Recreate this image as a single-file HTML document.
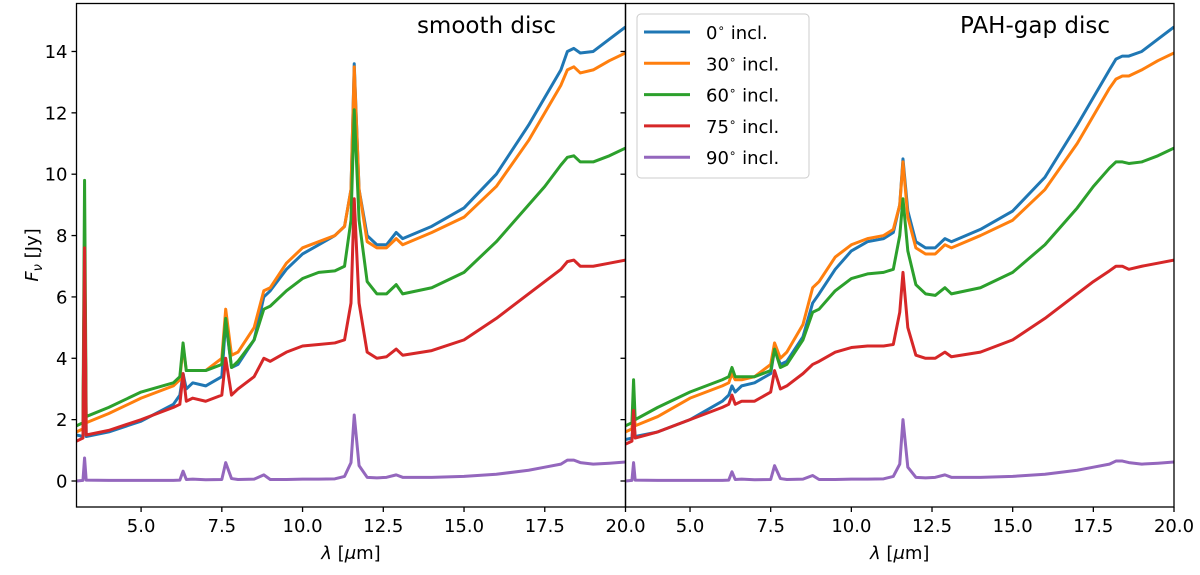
<!DOCTYPE html>
<html><head><meta charset="utf-8"><style>
body{margin:0;background:#fff}
svg{font-family:"DejaVu Sans","Liberation Sans",sans-serif}
</style></head><body>
<svg id="c" width="1200" height="570" xmlns="http://www.w3.org/2000/svg"></svg>
<script>
const lam=[3,3.2,3.25,3.3,4,5,6,6.2,6.3,6.4,6.6,7,7.5,7.62,7.8,8,8.5,8.8,9,9.5,10,10.5,11,11.3,11.5,11.6,11.75,12,12.3,12.6,12.9,13.1,14,15,16,17,17.5,18,18.2,18.4,18.6,19,19.5,20];
const smoothBlue=[1.5,1.45,7.6,1.45,1.6,1.95,2.5,2.8,3.5,3.0,3.2,3.1,3.4,5.2,3.7,3.8,4.6,6.0,6.2,6.9,7.4,7.7,8.0,8.3,9.5,13.6,9.5,8.0,7.7,7.7,8.1,7.9,8.3,8.9,10.0,11.6,12.5,13.4,14.0,14.1,13.95,14.0,14.4,14.8];
const smoothOrange=[1.6,1.7,7.7,1.9,2.2,2.7,3.1,3.3,4.4,3.6,3.6,3.6,4.0,5.6,4.1,4.2,5.0,6.2,6.3,7.1,7.6,7.8,8.0,8.3,9.5,13.5,9.5,7.8,7.6,7.6,7.9,7.7,8.1,8.6,9.6,11.1,12.0,12.9,13.4,13.5,13.3,13.4,13.7,13.95];
const smoothGreen=[1.8,1.9,9.8,2.1,2.4,2.9,3.2,3.4,4.5,3.6,3.6,3.6,3.8,5.3,3.7,3.9,4.6,5.6,5.7,6.2,6.6,6.8,6.85,7.0,8.5,12.1,8.5,6.5,6.1,6.1,6.4,6.1,6.3,6.8,7.8,9.0,9.6,10.3,10.55,10.6,10.4,10.4,10.6,10.85];
const smoothRed=[1.3,1.4,7.6,1.5,1.65,2.0,2.4,2.5,3.5,2.6,2.7,2.6,2.8,4.0,2.8,3.0,3.4,4.0,3.9,4.2,4.4,4.45,4.5,4.6,5.8,9.2,5.8,4.2,4.0,4.05,4.3,4.1,4.25,4.6,5.3,6.1,6.5,6.9,7.15,7.2,7.0,7.0,7.1,7.2];
const smoothPurple=[0,0.02,0.75,0.03,0.02,0.02,0.02,0.03,0.32,0.05,0.06,0.04,0.05,0.6,0.08,0.05,0.06,0.2,0.05,0.05,0.06,0.06,0.07,0.15,0.6,2.15,0.5,0.12,0.1,0.12,0.2,0.12,0.12,0.15,0.22,0.35,0.45,0.55,0.68,0.68,0.6,0.55,0.58,0.62];
const gapBlue=[1.35,1.4,2.0,1.45,1.6,2.0,2.6,2.8,3.1,2.9,3.1,3.2,3.5,4.3,3.8,3.9,4.7,5.8,6.1,6.9,7.5,7.8,7.9,8.1,9.0,10.5,8.8,7.8,7.6,7.6,7.9,7.8,8.2,8.8,9.9,11.6,12.5,13.4,13.75,13.85,13.85,14.0,14.4,14.8];
const gapOrange=[1.6,1.7,2.5,1.8,2.1,2.7,3.1,3.2,3.5,3.3,3.3,3.4,3.8,4.5,4.0,4.2,5.1,6.3,6.5,7.3,7.7,7.9,8.0,8.2,9.0,10.4,8.6,7.6,7.4,7.4,7.7,7.6,8.0,8.5,9.5,11.0,11.9,12.8,13.1,13.2,13.2,13.4,13.7,13.95];
const gapGreen=[1.8,1.9,3.3,2.0,2.4,2.9,3.3,3.4,3.7,3.4,3.4,3.4,3.6,4.3,3.7,3.8,4.6,5.5,5.6,6.2,6.6,6.75,6.8,6.9,8.0,9.2,7.5,6.4,6.1,6.05,6.3,6.1,6.3,6.8,7.7,8.9,9.6,10.2,10.4,10.4,10.35,10.4,10.6,10.85];
const gapRed=[1.2,1.3,2.3,1.4,1.6,2.0,2.4,2.5,2.8,2.5,2.6,2.6,2.9,3.6,3.0,3.1,3.5,3.8,3.9,4.2,4.35,4.4,4.4,4.45,5.5,6.8,5.0,4.1,4.0,4.0,4.2,4.05,4.2,4.6,5.3,6.1,6.5,6.85,7.0,7.0,6.9,7.0,7.1,7.2];
const gapPurple=[0,0.02,0.6,0.03,0.02,0.02,0.02,0.03,0.3,0.05,0.06,0.04,0.05,0.5,0.08,0.05,0.06,0.18,0.05,0.05,0.06,0.06,0.07,0.15,0.55,2.0,0.45,0.12,0.1,0.12,0.2,0.12,0.12,0.15,0.22,0.35,0.45,0.55,0.65,0.65,0.6,0.55,0.58,0.62];
const xTicks=[5,7.5,10,12.5,15,17.5,20];
const yTicks=[0,2,4,6,8,10,12,14];
const labels=["0$ incl.","30$ incl.","60$ incl.","75$ incl.","90$ incl."];
const colors=["#1f77b4","#ff7f0e","#2ca02c","#d62728","#9467bd"];

const NS="http://www.w3.org/2000/svg";
const svg=document.getElementById('c');
function mk(t,a,p){const e=document.createElementNS(NS,t);for(const k in a)e.setAttribute(k,a[k]);(p||svg).appendChild(e);return e;}
const Y0=481,YS=30.68,TOP=3.5,BOT=507;
function sy(v){return Y0-v*YS;}
const panels=[{x0:76.5,x1:625.5,series:[smoothBlue,smoothOrange,smoothGreen,smoothRed,smoothPurple],title:"smooth disc",tx:556,nm:"smooth-disc-panel"},
{x0:625.5,x1:1174,series:[gapBlue,gapOrange,gapGreen,gapRed,gapPurple],title:"PAH-gap disc",tx:1110,nm:"pah-gap-disc-panel"}];
panels.forEach((p,pi)=>{
  const g=mk('g',{});
  
  
  const sx=v=>p.x0+(v-3)*(p.x1-p.x0)/17;
  const cid='clip'+pi;
  const cp=mk('clipPath',{id:cid},g);mk('rect',{x:p.x0,y:TOP,width:p.x1-p.x0,height:BOT-TOP},cp);
  [0,1,2,3,4].forEach(si=>{
    const d=lam.map((l,i)=>(i?'L':'M')+sx(l).toFixed(2)+','+sy(p.series[si][i]).toFixed(2)).join('');
    const pa=mk('path',{d:d,fill:'none',stroke:colors[si],'stroke-width':3,'stroke-linejoin':'round','clip-path':'url(#'+cid+')'},g);
    
    
  });
  mk('rect',{x:p.x0,y:TOP,width:p.x1-p.x0,height:BOT-TOP,fill:'none',stroke:'#000','stroke-width':1.3},g);
  xTicks.forEach(t=>{
    const x=sx(t);
    mk('line',{x1:x,x2:x,y1:BOT,y2:BOT+5,stroke:'#000','stroke-width':1.3},g);
    const tx=mk('text',{x:x,y:BOT+25,'text-anchor':'middle','font-size':18},g);tx.textContent=t.toFixed(1);
    
    
  });
  yTicks.forEach(t=>{
    mk('line',{x1:p.x0-5,x2:p.x0,y1:sy(t),y2:sy(t),stroke:'#000','stroke-width':1.3},g);
    if(pi==0){const tx=mk('text',{x:p.x0-9,y:sy(t)+6.5,'text-anchor':'end','font-size':18},g);tx.textContent=t;
      
      }
  });
  const xl=mk('text',{x:(p.x0+p.x1)/2,y:559,'text-anchor':'middle','font-size':18},g);
  xl.innerHTML='<tspan font-style="italic">λ</tspan> [<tspan font-style="italic">μ</tspan>m]';
  
  
  const tt=mk('text',{x:p.tx,y:33,'text-anchor':'end','font-size':23},g);tt.textContent=p.title;
  
  
});
const yl=mk('text',{x:0,y:0,'text-anchor':'middle','font-size':18,transform:'translate(38,255) rotate(-90)'});
yl.innerHTML='<tspan font-style="italic">F</tspan><tspan font-style="italic" font-size="13" dy="4">ν</tspan><tspan dy="-4"> [Jy]</tspan>';


const lg=mk('g',{});


mk('rect',{x:637,y:14,width:172,height:164,rx:4,fill:'#fff','fill-opacity':0.8,stroke:'#ccc','stroke-width':1},lg);
labels.forEach((l,i)=>{
  const y=32+i*31.3;
  const e=mk('g',{},lg);
  
  
  mk('line',{x1:644,x2:690,y1:y,y2:y,stroke:colors[i],'stroke-width':3},e);
  const t=mk('text',{x:706,y:y+7,'font-size':18},e);
  const parts=l.split('$');
  t.innerHTML=parts[0]+'<tspan font-size="12" dy="-7">∘</tspan><tspan dy="7"> '+parts[1]+'</tspan>';
});
</script>
</body></html>
